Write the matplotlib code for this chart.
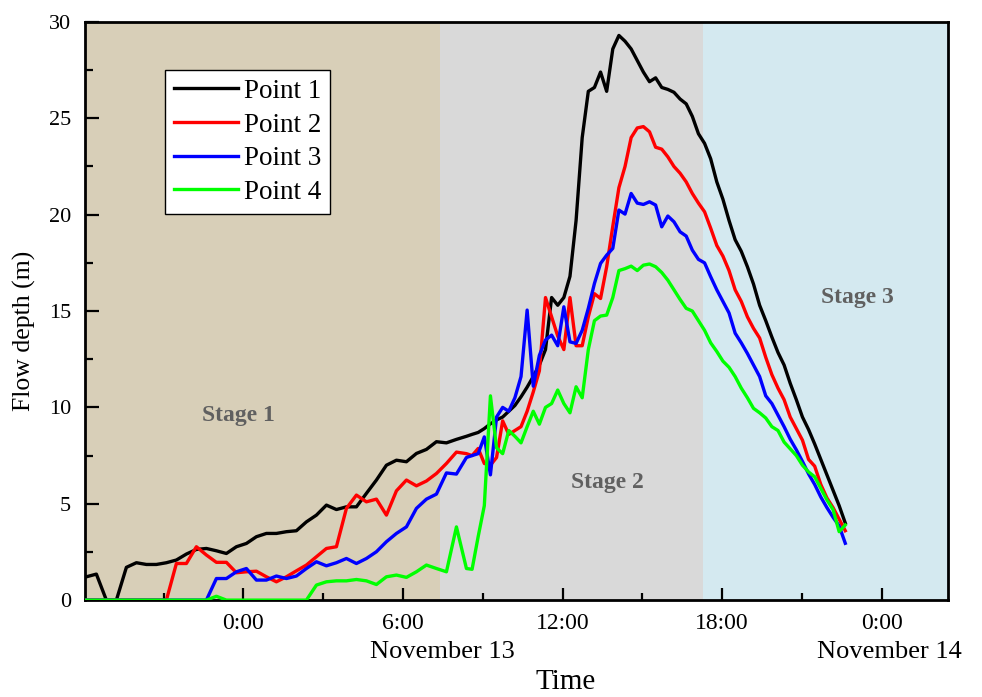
import numpy as np
import matplotlib.pyplot as plt
from matplotlib.transforms import blended_transform_factory

plt.rcParams['font.family'] = ['Liberation Serif', 'DejaVu Serif']

# time in hours from 0:00 November 13 (coarser steps early, finer later)
t_early = np.arange(39) * 0.376 - 5.9
t_late = np.arange(62) * 0.23 + 8.6
hours = np.concatenate([t_early, t_late])

p1_early = [1.21, 1.35, 0, 0, 1.7, 1.94, 1.85, 1.85, 1.94, 2.08,
            2.39, 2.63, 2.68, 2.56, 2.42, 2.77, 2.94, 3.29, 3.46, 3.46,
            3.55, 3.6, 4.06, 4.41, 4.93, 4.7, 4.84, 4.84, 5.54, 6.23,
            7.0, 7.26, 7.18, 7.61, 7.82, 8.22, 8.16, 8.34, 8.5]
p1_late = [8.6, 8.7, 8.9, 9.15, 9.35, 9.5, 9.8, 10.1, 10.55, 11.05,
           11.6, 12.2, 13.0, 15.7, 15.3, 15.7, 16.8, 19.7, 24.0, 26.4,
           26.6, 27.4, 26.4, 28.6, 29.3, 29.0, 28.6, 28.0, 27.4, 26.9,
           27.1, 26.6, 26.5, 26.35, 26.0, 25.75, 25.1, 24.2, 23.7, 22.9,
           21.7, 20.8, 19.7, 18.7, 18.1, 17.3, 16.4, 15.3, 14.5, 13.65,
           12.85, 12.2, 11.25, 10.4, 9.5, 8.85, 8.1, 7.3, 6.5, 5.7,
           4.9, 4.0]

p2_early = [0, 0, 0, 0, 0, 0, 0, 0, 0,
            1.9, 1.9, 2.77, 2.34, 1.96, 1.96, 1.42, 1.47, 1.5, 1.21,
            0.95, 1.21, 1.52, 1.82, 2.25, 2.68, 2.77, 4.76, 5.45, 5.1,
            5.24, 4.41, 5.67, 6.23, 5.93, 6.18, 6.57, 7.09, 7.68, 7.6]
p2_late = [7.5, 7.87, 7.09, 7.0, 7.4, 9.3, 8.6, 8.8, 9.0, 9.8,
           10.8, 11.9, 15.7, 14.7, 13.7, 13.0, 15.7, 13.2, 13.2, 14.7,
           15.9, 15.65, 17.3, 19.4, 21.4, 22.5, 24.0, 24.5, 24.57, 24.3,
           23.5, 23.4, 23.0, 22.5, 22.15, 21.7, 21.1, 20.6, 20.15, 19.3,
           18.4, 17.85, 17.1, 16.1, 15.5, 14.7, 14.1, 13.6, 12.6, 11.7,
           11.0, 10.4, 9.5, 8.9, 8.3, 7.3, 6.95, 6.0, 5.3, 4.8,
           4.2, 3.6]

p3_early = [0, 0, 0, 0, 0, 0, 0, 0, 0, 0, 0, 0, 0,
            1.12, 1.12, 1.47, 1.64, 1.04, 1.04, 1.25, 1.12, 1.25, 1.64,
            1.99, 1.78, 1.94, 2.16, 1.9, 2.16, 2.51, 3.03, 3.46, 3.8,
            4.76, 5.24, 5.5, 6.6, 6.54, 7.4]
p3_late = [7.5, 7.6, 8.47, 6.5, 9.5, 10.0, 9.8, 10.5, 11.6, 15.05,
           11.1, 12.7, 13.5, 13.75, 13.2, 15.22, 13.4, 13.32, 14.0, 15.14,
           16.43, 17.47, 17.9, 18.25, 20.24, 20.03, 21.1, 20.6, 20.53, 20.67,
           20.5, 19.37, 19.93, 19.63, 19.11, 18.89, 18.16, 17.68, 17.5, 16.78,
           16.1, 15.5, 14.9, 13.85, 13.35, 12.8, 12.2, 11.6, 10.6, 10.2,
           9.6, 9.0, 8.35, 7.8, 7.2, 6.55, 6.0, 5.35, 4.8, 4.3,
           3.85, 2.95]

p4_early = [0, 0, 0, 0, 0, 0, 0, 0, 0, 0, 0, 0, 0, 0.2,
            0, 0, 0, 0, 0, 0, 0, 0, 0,
            0.78, 0.95, 1.0, 1.0, 1.07, 1.0, 0.81, 1.21, 1.3, 1.18,
            1.47, 1.82, 1.64, 1.47, 3.8, 1.64]
p4_late = [1.6, 3.3, 4.9, 10.6, 7.9, 7.6, 8.8, 8.5, 8.16, 9.0,
           9.8, 9.13, 10.0, 10.2, 10.9, 10.2, 9.72, 11.07, 10.5, 13.0,
           14.5, 14.74, 14.79, 15.7, 17.1, 17.2, 17.33, 17.1, 17.38, 17.44,
           17.3, 17.0, 16.6, 16.1, 15.6, 15.14, 15.0, 14.5, 14.0, 13.35,
           12.9, 12.4, 12.08, 11.6, 11.0, 10.5, 9.95, 9.72, 9.45, 9.0,
           8.8, 8.2, 7.85, 7.5, 7.0, 6.65, 6.4, 5.8, 5.2, 4.7,
           3.55, 3.9]

labels = ['Point 1', 'Point 2', 'Point 3', 'Point 4']
colors = ['#000000', '#FF0000', '#0000FF', '#00FF00']
series = [p1_early + p1_late, p2_early + p2_late,
          p3_early + p3_late, p4_early + p4_late]

x_min, x_max = -5.95, 26.5
stage_edges = [x_min, 7.4, 17.3, x_max]
stage_colors = ['#D8CFB8', '#D9D9D9', '#D4E9F0']
stage_names = ['Stage 1', 'Stage 2', 'Stage 3']
stage_text_pos = [(-0.2, 9.6), (13.7, 6.1), (23.1, 15.7)]

tick_pos = [0, 6, 12, 18, 24]
tick_labels = ['0:00', '6:00', '12:00', '18:00', '0:00']
date_labels = [(7.5, 'November 13'), (24.3, 'November 14')]

fig = plt.figure(figsize=(9.82, 6.97), dpi=100)
ax = fig.add_axes([0.0866, 0.139, 0.879, 0.8295])

for i in range(3):
    ax.axvspan(stage_edges[i], stage_edges[i + 1], color=stage_colors[i], lw=0, zorder=0)
    ax.text(stage_text_pos[i][0], stage_text_pos[i][1], stage_names[i],
            fontsize=17, fontweight='bold', color='#606060', ha='center', va='center')

for vals, lab, col in zip(series, labels, colors):
    ax.plot(hours, vals, color=col, lw=2.4, label=lab, zorder=3)

ax.set_xlim(x_min, x_max)
ax.set_ylim(0, 30)
ax.set_xticks(tick_pos)
ax.set_xticklabels(tick_labels)
ax.set_xticks([-3, 3, 9, 15, 21], minor=True)
ax.set_yticks(range(0, 31, 5))
ax.set_yticks(np.arange(2.5, 30, 5), minor=True)
ax.tick_params(axis='both', which='major', direction='in', width=1.6)
ax.tick_params(axis='x', which='major', length=9, pad=9, labelsize=17)
ax.tick_params(axis='y', which='major', length=10, pad=10, labelsize=16)
ax.tick_params(axis='x', which='minor', direction='in', length=5, width=1.6)
ax.tick_params(axis='y', which='minor', direction='in', length=6, width=1.6)
for s in ax.spines.values():
    s.set_linewidth(2)

trans = blended_transform_factory(ax.transData, ax.transAxes)
for xpos, txt in date_labels:
    ax.text(xpos, -0.09, txt, transform=trans, fontsize=19, ha='center', va='center')

ax.set_xlabel('Time', fontsize=21)
ax.xaxis.set_label_coords(0.557, -0.12)
ax.set_ylabel('Flow depth (m)', fontsize=18.5)
ax.yaxis.set_label_coords(-0.057, 0.465)

leg = ax.legend(loc='upper left', bbox_to_anchor=(0.093, 0.917), borderaxespad=0,
                fontsize=19.5, frameon=True, fancybox=False, edgecolor='#000000',
                handlelength=2.36, handletextpad=0.22, labelspacing=0.32,
                borderpad=0.33)
leg.get_frame().set_linewidth(1.0)
leg.get_frame().set_facecolor('white')
leg.get_frame().set_alpha(1)

fig.savefig('out.png', dpi=100)
